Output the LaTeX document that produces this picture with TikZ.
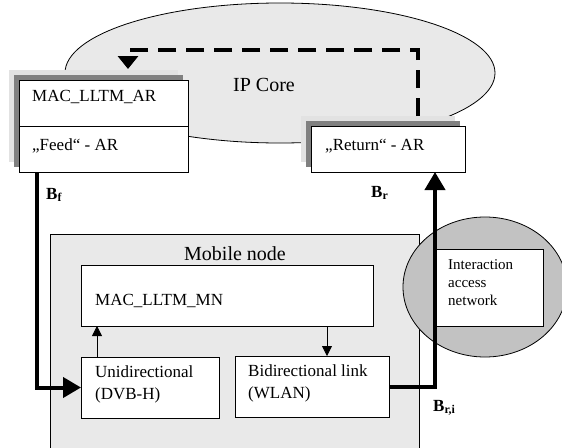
\documentclass[tikz,border=0pt]{standalone}
\usepackage{fontspec}
\setmainfont{Liberation Serif}
\usetikzlibrary{arrows.meta,shapes.geometric}
\definecolor{coregray}{RGB}{233,233,233}
\definecolor{shadelight}{RGB}{226,226,226}
\definecolor{shadedark}{RGB}{128,128,128}
\definecolor{accessgray}{RGB}{194,194,194}
\begin{document}
\begin{tikzpicture}[x=1pt,y=-1pt,
  box/.style={draw, fill=white, line width=0.8pt, inner sep=0pt, outer sep=0pt, anchor=north west},
  txt/.style={anchor=west, inner sep=0pt, align=left, font=\fontsize{17}{22}\selectfont},
  smalltxt/.style={anchor=west, inner sep=0pt, align=left, font=\fontsize{15}{18}\selectfont},
  bigtxt/.style={inner sep=0pt, font=\fontsize{20}{24}\selectfont},
  rate/.style={anchor=west, inner sep=0pt, font=\fontsize{17}{20}\selectfont\bfseries},
  thickflow/.style={line width=4pt, -{Triangle[length=18pt,width=20pt]}},
  thinflow/.style={line width=0.8pt, -{Triangle[length=10pt,width=10pt]}},
  dashflow/.style={line width=4pt, dash pattern=on 18pt off 10pt, -{Triangle[length=13pt,width=20pt]}},
]
\useasboundingbox (0,0) rectangle (562,447);
\clip (0,0) rectangle (562,447);

% IP core cloud
\node[draw, ellipse, fill=coregray, line width=0.8pt, inner sep=0pt,
      minimum width=430pt, minimum height=140pt] (core) at (280,73) {};
\node[bigtxt] (coretxt) at (264,85) {IP Core};

% feed access router with stacked shadows
\fill[shadelight] (9,70) rectangle (178,162);
\fill[shadedark] (14,75) rectangle (183,167);
\node[box, minimum width=169pt, minimum height=92pt] (ar) at (19,80) {};
\draw[line width=0.8pt] (19,126) -- (188,126);
\node[txt] (artop) at (32,97) {MAC\_LLTM\_AR};
\node[txt] (arfeed) at (32,146) {„Feed“ - AR};

% return access router with stacked shadows
\fill[shadelight] (301,116) rectangle (455,162);
\fill[shadedark] (306,121) rectangle (460,167);
\node[box, minimum width=154pt, minimum height=46pt] (ret) at (311,126) {};
\node[txt] (rettxt) at (325,146) {„Return“ - AR};

% mobile node
\node[box, fill=coregray, minimum width=369pt, minimum height=240pt] (mn) at (50,234) {};
\node[bigtxt] (mntxt) at (235,254) {Mobile node};
\node[box, minimum width=292pt, minimum height=61pt] (macmn) at (81,265) {};
\node[txt] (macmntxt) at (95,301) {MAC\_LLTM\_MN};
\node[box, minimum width=138pt, minimum height=61pt] (uni) at (81,357) {};
\node[txt] (unitxt) at (95,384) {Unidirectional\\(DVB-H)};
\node[box, minimum width=154pt, minimum height=61pt] (bidir) at (235,356) {};
\node[txt] (bidirtxt) at (248,383) {Bidirectional link\\(WLAN)};

% interaction access network
\node[draw, ellipse, fill=accessgray, line width=0.8pt, inner sep=0pt,
      minimum width=164pt, minimum height=140pt] (ian) at (485,287) {};
\node[box, minimum width=109pt, minimum height=77pt] (iabox) at (434,249) {};
\node[smalltxt] (iatxt) at (448,283) {Interaction\\access\\network};

% links inside the mobile node
\draw[thinflow] ([xshift=16pt]uni.north west) -- ([xshift=16pt]uni.north west |- macmn.south);
\draw[thinflow] ([xshift=92pt]bidir.north west |- macmn.south) -- ([xshift=92pt]bidir.north west);

% feed and return paths
\draw[thickflow] ([xshift=18pt]ar.south west) |- (uni.west);
\draw[thickflow] (bidir.east) -| ([xshift=-30pt]ret.south east);
\coordinate (looptop) at (273,50);
\draw[dashflow] ([shift={(-47,-10)}]ret.north east) |- (looptop) -| ([shift={(109,-11)}]ar.north west);

% bandwidth labels
\node[rate] (bf) at (46,195) {B\textsubscript{f}};
\node[rate] (br) at (371,193) {B\textsubscript{r}};
\node[rate] (bri) at (433,408) {B\textsubscript{r,i}};
\end{tikzpicture}
\end{document}
